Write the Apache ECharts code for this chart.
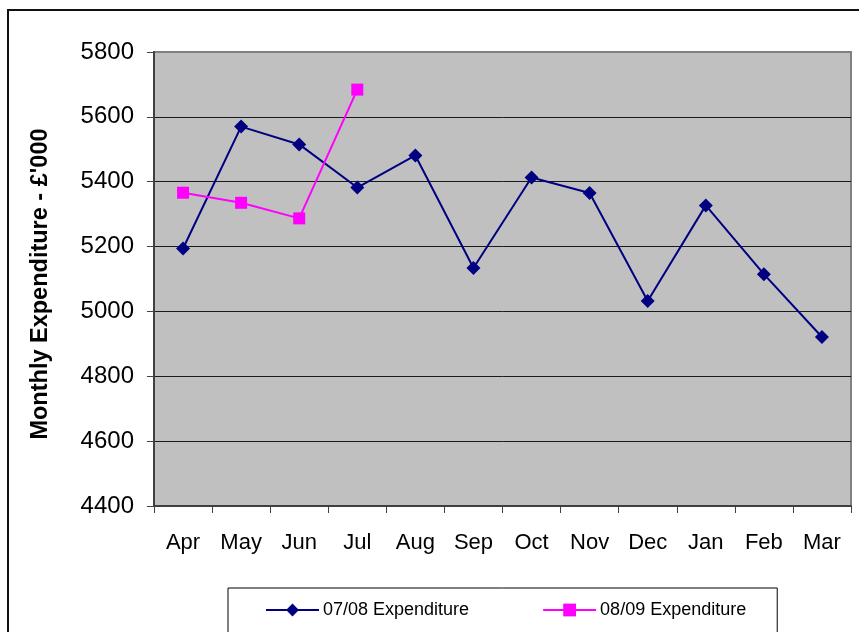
<!DOCTYPE html>
<html>
<head>
<meta charset="utf-8">
<script src="https://cdn.jsdelivr.net/npm/echarts@6/dist/echarts.min.js"></script>
<style>
html,body{margin:0;padding:0;background:#fff;}
#chart{width:859px;height:632px;}
</style>
</head>
<body>
<div id="chart"></div>
<script>
var categories = ['Apr','May','Jun','Jul','Aug','Sep','Oct','Nov','Dec','Jan','Feb','Mar'];
var exp0708 = [5194, 5570, 5515, 5382, 5481, 5134, 5413, 5365, 5032, 5327, 5115, 4921];
var exp0809 = [5366, 5335, 5287, 5684, '-', '-', '-', '-', '-', '-', '-', '-'];
var seriesNames = ['07/08 Expenditure', '08/09 Expenditure'];
var yTitle = "Monthly Expenditure - £'000";

var FONT = "'Liberation Sans', Arial, sans-serif";
var chart = echarts.init(document.getElementById('chart'), null, {renderer: 'canvas'});
chart.setOption({
  animation: false,
  backgroundColor: '#ffffff',
  grid: {
    left: 154, right: 8, top: 52, bottom: 126,
    show: true, backgroundColor: '#C0C0C0', borderColor: '#808080', borderWidth: 2
  },
  graphic: [
    {type: 'rect', shape: {x: 8, y: 10, width: 900, height: 700},
     style: {fill: 'none', stroke: '#111', lineWidth: 2}, z: -10, silent: true},
    {type: 'text', x: 41, y: 284, rotation: Math.PI / 2,
     style: {text: yTitle, font: 'bold 23.5px ' + FONT, fill: '#000', textAlign: 'center', textVerticalAlign: 'middle'}}
  ],
  legend: {
    left: 228, top: 588,
    padding: [13, 31, 40, 37],
    itemGap: 73,
    itemWidth: 53, itemHeight: 16,
    borderColor: '#000', borderWidth: 1,
    backgroundColor: '#fff',
    textStyle: {fontSize: 18, fontFamily: FONT, color: '#000', padding: [0, 0, 0, -1]},
    data: seriesNames
  },
  xAxis: {
    type: 'category',
    data: categories,
    boundaryGap: true,
    axisLine: {lineStyle: {color: '#404040', width: 2}},
    axisTick: {show: true, length: 7, lineStyle: {color: '#404040', width: 1}},
    axisLabel: {fontSize: 22, fontFamily: FONT, color: '#000', margin: 26, interval: 0},
    splitLine: {show: false}
  },
  yAxis: {
    type: 'value',
    min: 4400, max: 5800, interval: 200,
    axisLine: {show: true, lineStyle: {color: '#404040', width: 2}},
    axisTick: {show: true, length: 7, lineStyle: {color: '#404040', width: 1}},
    axisLabel: {fontSize: 24, fontFamily: FONT, color: '#000', margin: 20, formatter: function (v) { return String(v); }},
    splitLine: {show: true, lineStyle: {color: ['#1a1a1a','#1a1a1a','#1a1a1a','#1a1a1a','#1a1a1a','#1a1a1a','#1a1a1a','#808080'], width: 1}}
  },
  series: [
    {
      name: seriesNames[0], type: 'line', data: exp0708,
      symbol: 'diamond', symbolSize: 14,
      lineStyle: {color: '#000080', width: 2},
      itemStyle: {color: '#000080'}
    },
    {
      name: seriesNames[1], type: 'line', data: exp0809,
      symbol: 'rect', symbolSize: 12,
      connectNulls: false,
      lineStyle: {color: '#FF00FF', width: 2},
      itemStyle: {color: '#FF00FF'}
    }
  ]
});
</script>
</body>
</html>
